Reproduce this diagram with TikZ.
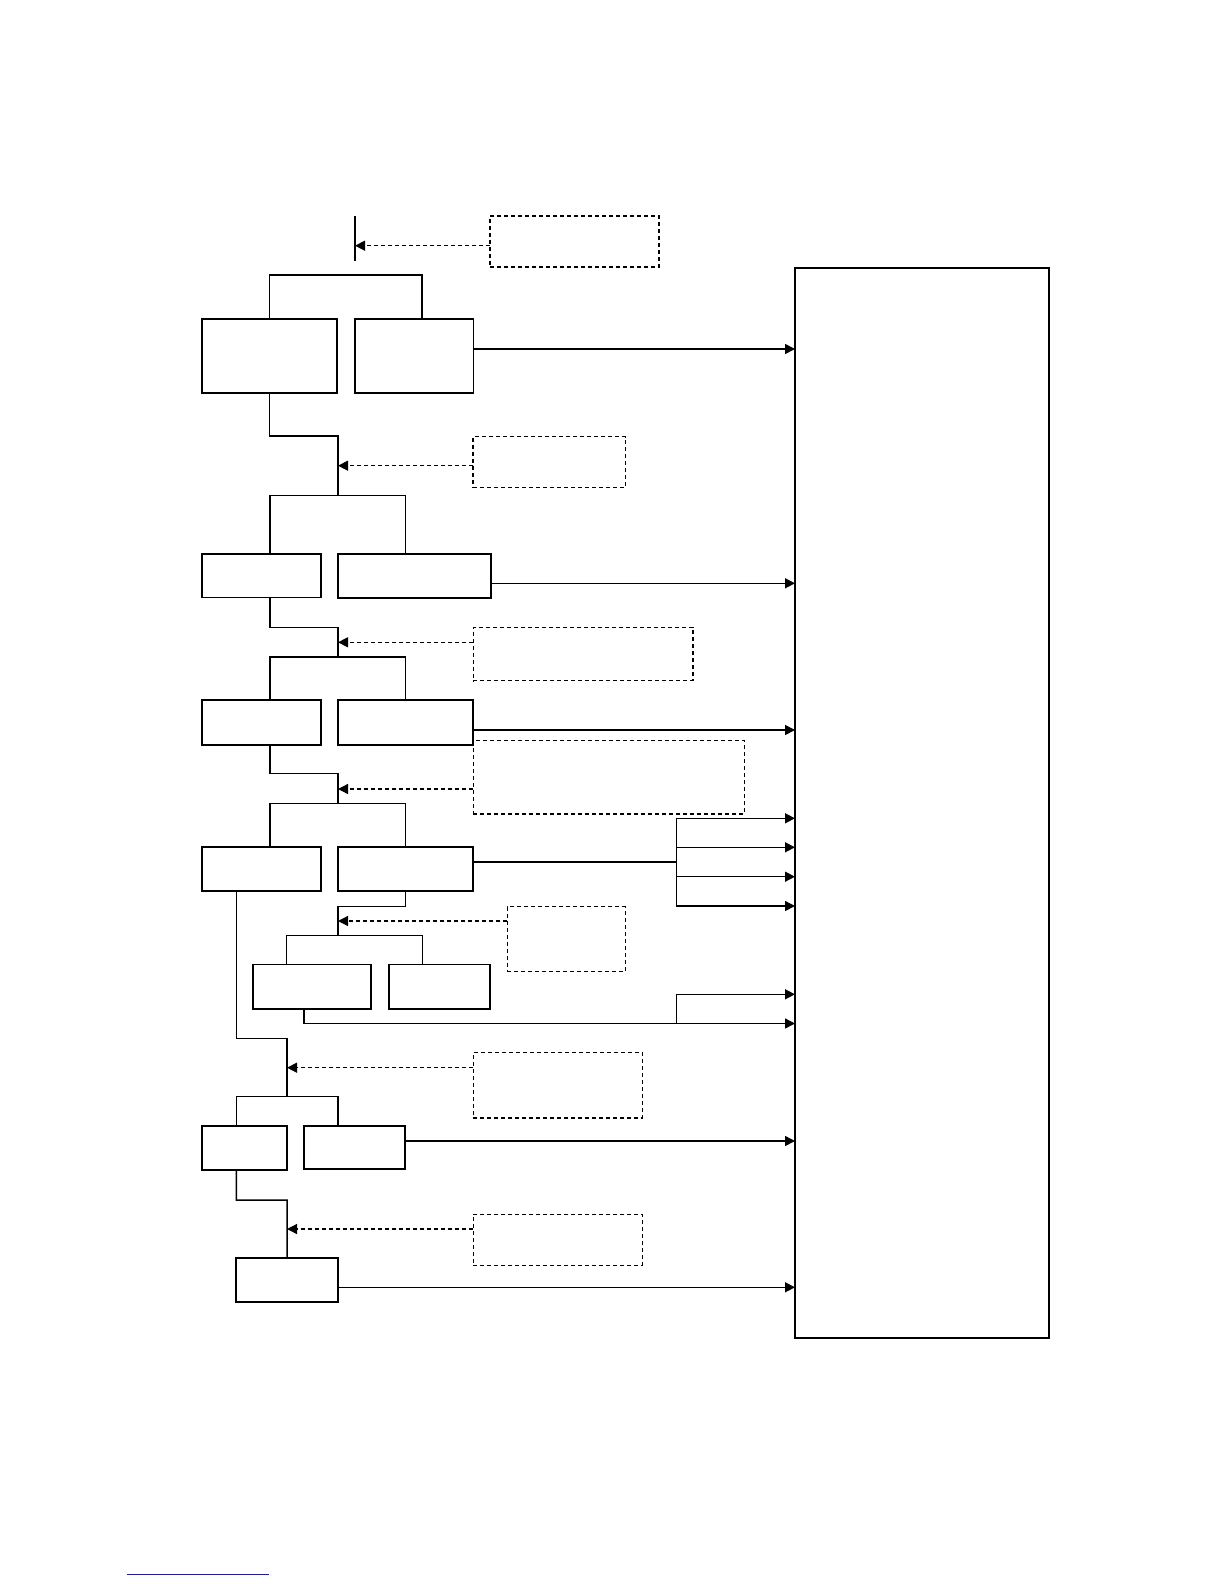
\documentclass[tikz,border=0pt]{standalone}
\usetikzlibrary{arrows.meta}
\begin{document}
\begin{tikzpicture}[x=1pt,y=-1pt,
  box/.style={draw=black,line width=1.8pt,inner sep=0pt,outer sep=0pt},
  dbox/.style={draw=black,line width=1.2pt,dash pattern=on 4pt off 3pt,inner sep=0pt,outer sep=0pt},
  big/.style={draw=black,line width=2pt,inner sep=0pt,outer sep=0pt},
  ln/.style={draw=black,line width=1.5pt},
  arr/.style={ln,-{Triangle[length=10pt,width=10pt]}},
  darr/.style={draw=black,line width=1.3pt,dash pattern=on 4pt off 3pt,-{Triangle[length=10pt,width=10pt]}}]
\useasboundingbox (0,0) rectangle (1224,1584);
% main boxes
\node[box,minimum width=135pt,minimum height=74pt] (A) at (269.5,356) {};
\node[box,minimum width=118.5pt,minimum height=74pt] (B) at (414.25,356) {};
\node[box,minimum width=119pt,minimum height=43.5pt] (C) at (261.5,575.75) {};
\node[box,minimum width=152.7pt,minimum height=44pt] (D) at (414.35,576) {};
\node[box,minimum width=118.7pt,minimum height=44.7pt] (E) at (261.65,722.65) {};
\node[box,minimum width=135.6pt,minimum height=44.7pt] (F) at (405.5,722.65) {};
\node[box,minimum width=118.7pt,minimum height=43.7pt] (G) at (261.65,869.15) {};
\node[box,minimum width=135.6pt,minimum height=44pt] (H) at (405.5,869.3) {};
\node[box,minimum width=118pt,minimum height=44.5pt] (I) at (312.3,986.75) {};
\node[box,minimum width=101.6pt,minimum height=44.5pt] (J) at (439.5,986.75) {};
\node[box,minimum width=84.7pt,minimum height=44.3pt] (K) at (244.65,1148.15) {};
\node[box,minimum width=101.6pt,minimum height=42.7pt] (L) at (354.5,1147.35) {};
\node[box,minimum width=101.7pt,minimum height=44pt] (M) at (287.15,1280.3) {};
\node[big,minimum width=254.3pt,minimum height=1070.4pt] (BG) at (922.15,802.8) {};
% dashed boxes
\node[dbox,minimum width=169pt,minimum height=51pt] (d1) at (574.5,241.5) {};
\node[dbox,minimum width=152.7pt,minimum height=50.6pt] (d2) at (549.35,462) {};
\node[dbox,minimum width=219.7pt,minimum height=53.4pt] (d3) at (583.15,654) {};
\node[dbox,minimum width=271pt,minimum height=73.5pt] (d4) at (608.8,777.25) {};
\node[dbox,minimum width=118pt,minimum height=65pt] (d5) at (566.3,939) {};
\node[dbox,minimum width=169pt,minimum height=65.3pt] (d6) at (557.8,1085.35) {};
\node[dbox,minimum width=169pt,minimum height=51pt] (d7) at (557.8,1239.8) {};
% coordinates
\coordinate (bar1) at (355,216); \coordinate (bar2) at (355,261);
\coordinate (t0) at (355,245.7);
\coordinate (b1r) at (422,275);
\coordinate (yB) at (0,349);
\coordinate (xl) at (270,0);
\coordinate (k1) at (338,436); \coordinate (t1) at (338,465.7);
\coordinate (b2) at (405.3,495.7); \coordinate (yD) at (0,583.3);
\coordinate (k2) at (338,627.3); \coordinate (t2) at (338,642.3);
\coordinate (b3) at (405.3,657); \coordinate (yF) at (0,730);
\coordinate (k3) at (338,773.7); \coordinate (t3) at (338,789);
\coordinate (b4) at (405.3,803.3); \coordinate (yH) at (0,862);
\coordinate (f1) at (676.3,862);
\coordinate (y1) at (0,818.3); \coordinate (y2) at (0,847.3);
\coordinate (y3) at (0,876.7); \coordinate (y4) at (0,906);
\coordinate (k4) at (338,906.3); \coordinate (t4) at (338,921);
\coordinate (b5l) at (286.7,935.7); \coordinate (b5r) at (422.3,935.7);
\coordinate (iB) at (304,0); \coordinate (yI) at (0,1023.5);
\coordinate (f2) at (676.3,1023.5); \coordinate (yI2) at (0,994.3);
\coordinate (gB) at (236.3,0);
\coordinate (k5) at (287,1038.3); \coordinate (t5) at (287,1067.7);
\coordinate (b6l) at (236.3,1096.7); \coordinate (b6r) at (338,1096.7);
\coordinate (yL) at (0,1141);
\coordinate (k6) at (287,1200); \coordinate (t6) at (287,1229);
\coordinate (yM) at (0,1287.3);
\coordinate (u1) at (127.3,1574.7); \coordinate (u2) at (268.7,1574.7);
% top bar
\draw[line width=2pt] (bar1) -- (bar2);
\draw[darr] (d1.west |- t0) -- (t0);
% section 1
\draw[ln] (A.north) |- (b1r) -- (b1r |- B.north);
\draw[arr] (B.east |- yB) -- (BG.west |- yB);
% section 2
\draw[ln] (A.south) |- (k1) -- (k1 |- b2);
\draw[darr] (d2.west |- t1) -- (t1);
\draw[ln] (xl |- C.north) |- (b2) -- (b2 |- D.north);
\draw[arr] (D.east |- yD) -- (BG.west |- yD);
% section 3
\draw[ln] (xl |- C.south) |- (k2) -- (k2 |- b3);
\draw[darr] (d3.west |- t2) -- (t2);
\draw[ln] (xl |- E.north) |- (b3) -- (b3 |- F.north);
\draw[arr] (F.east |- yF) -- (BG.west |- yF);
% section 4
\draw[ln] (xl |- E.south) |- (k3) -- (k3 |- b4);
\draw[darr] (d4.west |- t3) -- (t3);
\draw[ln] (xl |- G.north) |- (b4) -- (b4 |- H.north);
\draw[ln] (H.east |- yH) -- (f1);
\draw[ln] (f1 |- y1) -- (f1 |- y4);
\draw[arr] (f1 |- y1) -- (BG.west |- y1);
\draw[arr] (f1 |- y2) -- (BG.west |- y2);
\draw[arr] (f1 |- y3) -- (BG.west |- y3);
\draw[arr] (f1 |- y4) -- (BG.west |- y4);
% sub-section
\draw[ln] (H.south) |- (k4) -- (k4 |- b5r);
\draw[darr] (d5.west |- t4) -- (t4);
\draw[ln] (b5l |- I.north) -- (b5l) -- (b5r) -- (b5r |- J.north);
\draw[arr] (iB |- I.south) |- (BG.west |- yI);
\draw[arr] (f2) |- (BG.west |- yI2);
% section 5
\draw[ln] (gB |- G.south) |- (k5) -- (k5 |- b6l);
\draw[darr] (d6.west |- t5) -- (t5);
\draw[ln] (b6l |- K.north) -- (b6l) -- (b6r) -- (b6r |- L.north);
\draw[arr] (L.east |- yL) -- (BG.west |- yL);
% section 6
\draw[ln] (b6l |- K.south) |- (k6) -- (M.north);
\draw[darr] (d7.west |- t6) -- (t6);
\draw[arr] (M.east |- yM) -- (BG.west |- yM);
% footnote rule
\draw[draw={rgb,255:red,30;green,30;blue,150},line width=1.3pt] (u1) -- (u2);
\end{tikzpicture}
\end{document}
